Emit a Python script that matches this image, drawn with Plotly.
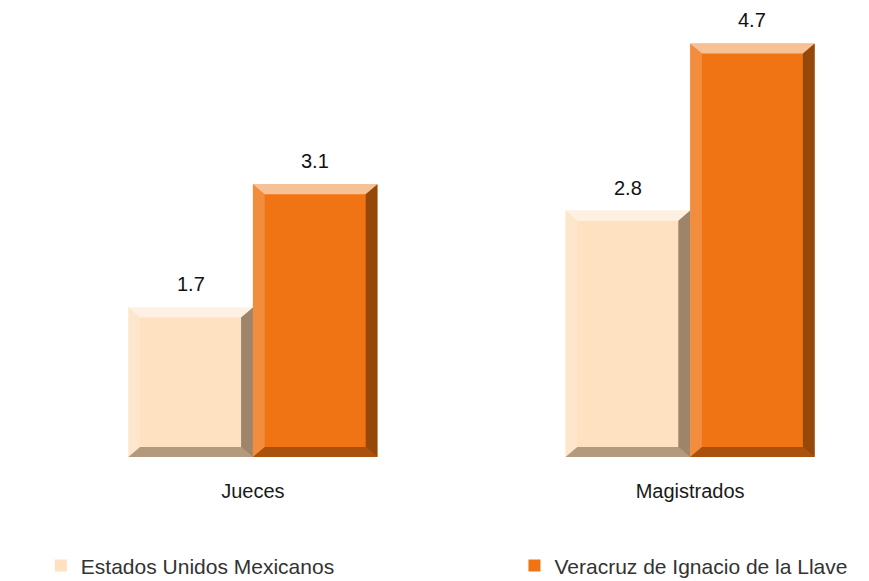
import plotly.graph_objects as go

categories = ["Jueces", "Magistrados"]
series_names = ["Estados Unidos Mexicanos", "Veracruz de Ignacio de la Llave"]
mexico_vals = [1.7, 2.8]
veracruz_vals = [3.1, 4.7]

colors = ["#FDE1C1", "#F07414"]
bar_w = 0.285
pos = list(range(len(categories)))

fig = go.Figure()
fig.add_trace(go.Bar(x=pos, y=mexico_vals, name=series_names[0], width=bar_w, offset=-bar_w,
                     marker=dict(color=colors[0], line=dict(width=0)), legend="legend"))
fig.add_trace(go.Bar(x=pos, y=veracruz_vals, name=series_names[1], width=bar_w, offset=0,
                     marker=dict(color=colors[1], line=dict(width=0)), legend="legend2"))

# bevel look, built from the bar values
bx = 0.027
by = 0.115
shapes = []
annotations = []
for vals, off in [(mexico_vals, -bar_w), (veracruz_vals, 0)]:
    for p, v in zip(pos, vals):
        x0, x1 = p + off, p + off + bar_w
        faces = [
            ([(x0, v), (x1, v), (x1 - bx, v - by), (x0 + bx, v - by)], "rgba(255,255,255,0.55)"),
            ([(x0, 0), (x0, v), (x0 + bx, v - by), (x0 + bx, by)], "rgba(255,255,255,0.18)"),
            ([(x1, 0), (x1, v), (x1 - bx, v - by), (x1 - bx, by)], "rgba(40,20,0,0.45)"),
            ([(x0, 0), (x1, 0), (x1 - bx, by), (x0 + bx, by)], "rgba(40,20,0,0.35)"),
        ]
        for pts, fc in faces:
            path = "M " + " L ".join(f"{a},{b}" for a, b in pts) + " Z"
            shapes.append(dict(type="path", path=path, xref="x", yref="y",
                               fillcolor=fc, line=dict(width=0), layer="above"))
        annotations.append(dict(x=(x0 + x1) / 2, y=v, text=f"{v:.1f}", showarrow=False,
                                yanchor="bottom", yshift=10,
                                font=dict(size=20, color="#111111")))

legend_style = dict(xref="container", yref="container", y=0.026,
                    xanchor="left", yanchor="middle",
                    font=dict(size=21, color="#333333"))

fig.update_layout(
    width=869, height=581,
    margin=dict(l=78, r=4, t=17, b=124, autoexpand=False),
    plot_bgcolor="white", paper_bgcolor="white",
    font=dict(family="Liberation Sans, Arial, sans-serif", color="#222222"),
    barmode="overlay",
    showlegend=True,
    shapes=shapes,
    annotations=annotations,
    xaxis=dict(range=[-0.4, 1.4], tickvals=pos, ticktext=categories, showgrid=False,
               zeroline=False, showline=False, ticks="", ticklabelstandoff=20,
               tickfont=dict(size=20, color="#1a1a1a")),
    yaxis=dict(range=[0, 5], visible=False),
    legend=dict(x=0.047, **legend_style),
    legend2=dict(x=0.592, **legend_style),
)

fig.write_html("out.html", config={"displayModeBar": False},
               post_script="document.body.style.margin='0';")
